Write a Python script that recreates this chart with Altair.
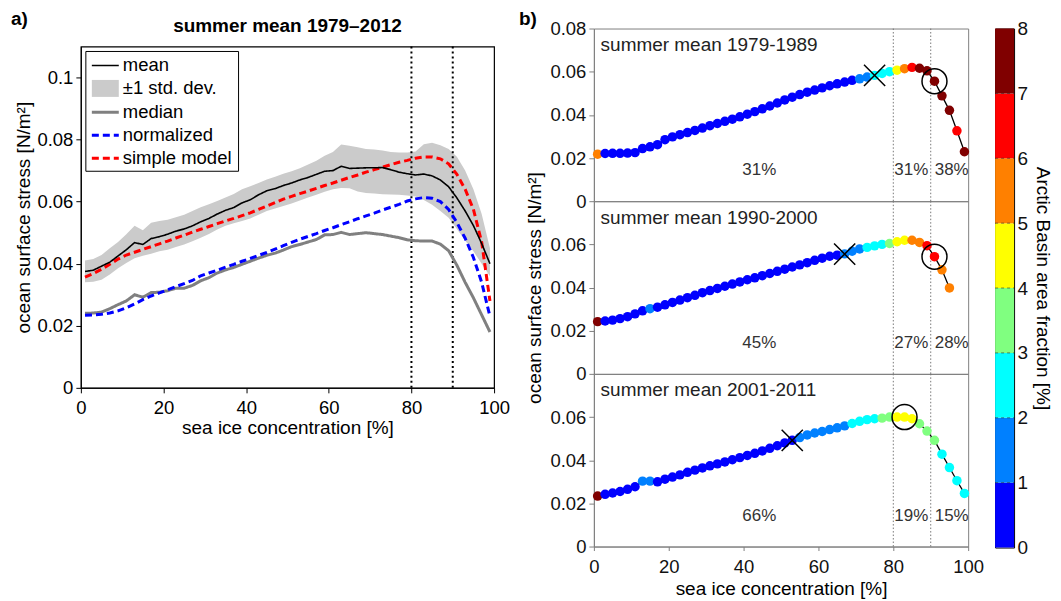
import altair as alt
import pandas as pd

FONT = "Liberation Sans"

# ---------------- panel a data ----------------
conc_a = [1, 3, 5, 7, 9, 11, 13, 15, 17, 19, 21, 23, 25, 27, 29, 31, 33, 35, 37, 39,
          41, 43, 45, 47, 49, 51, 53, 55, 57, 59, 61, 63, 65, 67, 69, 71, 73, 75, 77, 79,
          81, 83, 85, 87, 89, 91, 93, 95, 97, 99]
mean_a = [.0375, .0379, .0392, .0405, .0425, .0445, .0468, .0462, .0481, .0487,
          .0495, .0505, .0512, .0522, .0535, .0546, .0560, .0572, .0581, .0596,
          .0606, .0622, .0635, .0642, .0652, .0660, .0670, .0678, .0688, .0698,
          .0700, .0714, .0707, .0708, .0709, .0709, .0710, .0703, .0695, .0690,
          .0686, .0689, .0683, .0670, .0648, .0612, .0570, .0523, .0465, .0400]
upper_a = [.0410, .0415, .0428, .0450, .0470, .0495, .0522, .0508, .0532, .0538,
           .0542, .0550, .0558, .0570, .0582, .0592, .0602, .0613, .0625, .0640,
           .0650, .0660, .0671, .0680, .0690, .0698, .0708, .0720, .0732, .0748,
           .0760, .0784, .0780, .0775, .0770, .0768, .0765, .0760, .0758, .0758,
           .0762, .0785, .0790, .0782, .0770, .0745, .0700, .0640, .0560, .0450]
lower_a = [.0340, .0342, .0348, .0365, .0385, .0402, .0418, .0426, .0432, .0440,
           .0445, .0454, .0462, .0472, .0484, .0496, .0510, .0522, .0530, .0538,
           .0546, .0558, .0570, .0578, .0586, .0594, .0604, .0613, .0622, .0632,
           .0640, .0644, .0643, .0633, .0628, .0626, .0624, .0623, .0622, .0620,
           .0617, .0605, .0590, .0570, .0548, .0512, .0475, .0440, .0400, .0360]
median_a = [.0240, .0241, .0244, .0255, .0268, .0280, .0300, .0292, .0307, .0308,
            .0313, .0321, .0321, .0330, .0345, .0355, .0370, .0380, .0388, .0398,
            .0408, .0418, .0427, .0434, .0444, .0455, .0462, .0470, .0478, .0493,
            .0494, .0501, .0494, .0497, .0500, .0497, .0494, .0489, .0484, .0477,
            .0474, .0473, .0473, .0463, .0442, .0395, .0340, .0290, .0235, .0180]
norm_a = [.0234, .0235, .0237, .0241, .0248, .0258, .0270, .0284, .0296, .0306,
          .0316, .0326, .0336, .0346, .0361, .0370, .0379, .0389, .0398, .0408,
          .0417, .0427, .0436, .0447, .0458, .0469, .0479, .0488, .0497, .0507,
          .0516, .0526, .0535, .0545, .0554, .0563, .0573, .0582, .0591, .0602,
          .0609, .0613, .0611, .0600, .0575, .0533, .0482, .0420, .0340, .0230]
model_a = [.0357, .0368, .0382, .0398, .0415, .0428, .0437, .0446, .0455, .0464,
           .0473, .0483, .0492, .0502, .0511, .0520, .0529, .0538, .0546, .0555,
           .0564, .0575, .0586, .0597, .0608, .0617, .0626, .0634, .0643, .0652,
           .0660, .0669, .0678, .0686, .0695, .0703, .0711, .0719, .0727, .0733,
           .0740, .0744, .0744, .0738, .0722, .0688, .0640, .0575, .0470, .0280]
vlines_a = [80, 90]

series_names = ["mean", "±1 std. dev.", "median", "normalized", "simple model"]
series_colors = ["#000000", "#cbcbcb", "#808080", "#0000ff", "#ff0000"]
series_dash = [[1, 0], [1, 0], [1, 0], [7, 4], [7, 4]]
series_width = [1.6, 17, 3, 3, 3]

# ---------------- panel b data ----------------
periods = ["summer mean 1979-1989", "summer mean 1990-2000", "summer mean 2001-2011"]
conc_b1 = [1, 3, 5, 7, 9, 11, 13, 15, 17, 19, 21, 23, 25, 27, 29, 31, 33, 35, 37, 39,
           41, 43, 45, 47, 49, 51, 53, 55, 57, 59, 61, 63, 65, 67, 69, 71, 73, 75, 77, 79,
           81, 83, 85, 87, 89, 91, 93, 95, 97, 99]
stress_b1 = [.0218, .0221, .0222, .0222, .0223, .0225, .0244, .0252, .0262, .0285,
             .0298, .0308, .0318, .0328, .0339, .0350, .0360, .0370, .0380, .0391,
             .0403, .0415, .0428, .0441, .0455, .0469, .0482, .0494, .0505, .0515,
             .0525, .0535, .0544, .0552, .0560, .0567, .0575, .0583, .0592, .0600,
             .0607, .0614, .0620, .0616, .0604, .0556, .0488, .0421, .0326, .0229]
frac_b1 = [5.5, 0.5, 0.5, 0.5, 0.5, 0.5, 0.5, 0.5, 0.5, 0.5,
           0.5, 0.5, 0.5, 0.5, 0.5, 0.5, 0.5, 0.5, 0.5, 0.5,
           0.5, 0.5, 0.5, 0.5, 0.5, 0.5, 0.5, 0.5, 0.5, 0.5,
           0.5, 0.5, 0.5, 0.5, 0.5, 1.5, 1.5, 2.5, 2.5, 2.5,
           4.5, 5.5, 6.5, 7.5, 7.5, 7.5, 7.5, 7.5, 6.5, 7.5]
conc_b2 = [1, 3, 5, 7, 9, 11, 13, 15, 17, 19, 21, 23, 25, 27, 29, 31, 33, 35, 37, 39,
           41, 43, 45, 47, 49, 51, 53, 55, 57, 59, 61, 63, 65, 67, 69, 71, 73, 75, 77, 79,
           81, 83, 85, 87, 89, 91, 93, 95]
stress_b2 = [.0242, .0245, .0249, .0256, .0265, .0278, .0292, .0302, .0309, .0320,
             .0331, .0342, .0353, .0364, .0376, .0386, .0396, .0406, .0416, .0426,
             .0436, .0445, .0455, .0465, .0475, .0485, .0495, .0505, .0515, .0526,
             .0536, .0545, .0550, .0556, .0568, .0579, .0586, .0593, .0600, .0604,
             .0612, .0619, .0619, .0609, .0594, .0543, .0482, .0398]
frac_b2 = [7.5, 0.5, 0.5, 0.5, 0.5, 0.5, 0.5, 1.5, 0.5, 0.5,
           0.5, 0.5, 0.5, 0.5, 0.5, 0.5, 0.5, 0.5, 0.5, 0.5,
           0.5, 0.5, 0.5, 0.5, 0.5, 0.5, 0.5, 0.5, 0.5, 0.5,
           0.5, 0.5, 0.5, 1.5, 1.5, 1.5, 2.5, 2.5, 2.5, 3.5,
           4.5, 4.5, 5.5, 5.5, 6.5, 6.5, 5.5, 5.5]
conc_b3 = [1, 3, 5, 7, 9, 11, 13, 15, 17, 19, 21, 23, 25, 27, 29, 31, 33, 35, 37, 39,
           41, 43, 45, 47, 49, 51, 53, 55, 57, 59, 61, 63, 65, 67, 69, 71, 73, 75, 77, 79,
           81, 83, 85, 87, 89, 91, 93, 95, 97, 99]
stress_b3 = [.0234, .0242, .0248, .0255, .0265, .0277, .0303, .0303, .0300, .0312,
             .0322, .0332, .0344, .0354, .0364, .0374, .0383, .0392, .0402, .0412,
             .0422, .0432, .0443, .0455, .0467, .0480, .0492, .0505, .0517, .0526,
             .0533, .0542, .0550, .0559, .0570, .0580, .0588, .0592, .0595, .0600,
             .0600, .0600, .0592, .0569, .0535, .0492, .0428, .0366, .0305, .0246]
frac_b3 = [7.5, 0.5, 0.5, 0.5, 0.5, 0.5, 1.5, 1.5, 0.5, 0.5,
           0.5, 0.5, 0.5, 0.5, 0.5, 0.5, 0.5, 0.5, 0.5, 0.5,
           0.5, 0.5, 0.5, 0.5, 0.5, 0.5, 0.5, 1.5, 1.5, 1.5,
           1.5, 1.5, 1.5, 1.5, 2.5, 2.5, 2.5, 2.5, 3.5, 3.5,
           4.5, 4.5, 4.5, 3.5, 3.5, 3.5, 2.5, 2.5, 2.5, 2.5]
xmark_b = [[75, .0583], [67, .0555], [53, .0492]]
circle_b = [[91, .0556], [91, .0543], [83, .0600]]
pct_labels_b = [["31%", "31%", "38%"], ["45%", "27%", "28%"], ["66%", "19%", "15%"]]
pct_x = [44.2, 84.8, 95.6]
pct_y = [0.0143, 0.0143, 0.0143]
period_xy = [1.8, 0.0723]
vlines_b = [80, 90]

# ---------------- colorbar ----------------
cb_lo = [0, 1, 2, 3, 4, 5, 6, 7]
cb_hi = [1, 2, 3, 4, 5, 6, 7, 8]
cb_mid = [0.5, 1.5, 2.5, 3.5, 4.5, 5.5, 6.5, 7.5]
cb_ticks = [0, 1, 2, 3, 4, 5, 6, 7, 8]
jet8 = ["#0000ff", "#0080ff", "#00ffff", "#80ff80", "#ffff00", "#ff8000", "#ff0000", "#800000"]
frac_scale = alt.Scale(type="threshold", domain=[1, 2, 3, 4, 5, 6, 7], range=jet8)

one = pd.DataFrame({"k": [0]})

# ================= panel a =================
rows = []
for name, vals in [("median", median_a), ("normalized", norm_a),
                   ("simple model", model_a), ("mean", mean_a)]:
    for c, v in zip(conc_a, vals):
        rows.append({"conc": c, "stress": v, "series": name})
lines_df = pd.DataFrame(rows)
band_df = pd.DataFrame({"conc": conc_a, "lower": lower_a, "upper": upper_a})

axis_a_x = alt.Axis(values=[0, 20, 40, 60, 80, 100], title="sea ice concentration [%]",
                    labelFlush=False, tickSize=5, labelPadding=6, titlePadding=1,
                    domainColor="black", tickColor="black", grid=False)
axis_a_y = alt.Axis(values=[0, 0.02, 0.04, 0.06, 0.08, 0.1], format=".2~f",
                    title="ocean surface stress [N/m²]", labelFlush=False,
                    tickSize=5, labelPadding=3, titlePadding=3,
                    domainColor="black", tickColor="black", grid=False)


def xa():
    return alt.X("conc:Q", scale=alt.Scale(domain=[0, 100], nice=False), axis=axis_a_x)


def ya(field):
    return alt.Y(f"{field}:Q", scale=alt.Scale(domain=[0, 0.11], nice=False), axis=axis_a_y)


band = alt.Chart(band_df).mark_area(color="#cbcbcb", opacity=1).encode(
    x=xa(), y=ya("lower"), y2="upper:Q")
rules_a = alt.Chart(pd.DataFrame({"conc": vlines_a})).mark_rule(
    color="black", strokeDash=[2, 3], strokeWidth=2).encode(x=xa())
lines = alt.Chart(lines_df).mark_line().encode(
    x=xa(), y=ya("stress"),
    color=alt.Color("series:N", scale=alt.Scale(domain=series_names, range=series_colors),
                    legend=None),
    strokeDash=alt.StrokeDash("series:N", scale=alt.Scale(domain=series_names, range=series_dash),
                              legend=None),
    strokeWidth=alt.StrokeWidth("series:N", scale=alt.Scale(type="ordinal", domain=series_names,
                                                            range=series_width),
                                legend=None),
)

# legend box drawn inside the plot area (pixel offsets from the plot's top-left corner)
legend_layers = [
    alt.Chart(one).mark_rect(fill="white", stroke="black", strokeWidth=1).encode(
        x=alt.value(5), x2=alt.value(158), y=alt.value(5), y2=alt.value(125))
]
row_y = [19, 42, 66, 89, 112]
for i, name in enumerate(series_names):
    if name == "±1 std. dev.":
        legend_layers.append(alt.Chart(one).mark_rect(fill=series_colors[i]).encode(
            x=alt.value(11), x2=alt.value(38), y=alt.value(row_y[i] - 8.5),
            y2=alt.value(row_y[i] + 8.5)))
    else:
        legend_layers.append(alt.Chart(one).mark_rule(
            color=series_colors[i], strokeDash=series_dash[i], strokeWidth=series_width[i]).encode(
            x=alt.value(11), x2=alt.value(38), y=alt.value(row_y[i])))
    legend_layers.append(alt.Chart(pd.DataFrame({"t": [name]})).mark_text(
        fontSize=18.5, align="left", baseline="middle", color="black").encode(
        text="t:N", x=alt.value(42), y=alt.value(row_y[i])))

label_a = alt.Chart(pd.DataFrame({"t": ["a)"]})).mark_text(
    fontSize=19, fontWeight="bold", align="left", baseline="top", color="black").encode(
    text="t:N", x=alt.value(-70), y=alt.value(-37))
title_a = alt.Chart(pd.DataFrame({"t": ["summer mean 1979–2012"]})).mark_text(
    fontSize=19, fontWeight="bold", align="center", baseline="middle", color="black").encode(
    text="t:N", x=alt.value(207), y=alt.value(-21))

panel_a_core = alt.layer(band, rules_a, lines, *legend_layers, label_a, title_a).properties(
    width=414, height=342,
    view=alt.ViewBackground(stroke="black", strokeWidth=1.2),
)
spacer_a = alt.Chart(one).mark_point(opacity=0).encode(
    x=alt.value(0), y=alt.value(0)).properties(
    width=414, height=18, view=alt.ViewBackground(strokeOpacity=0, fillOpacity=0))
panel_a = alt.vconcat(spacer_a, panel_a_core, spacing=0, bounds="flush")

# ================= panel b =================
gray = "#808080"


def sub_b(i, conc, stress, frac, y_values, y_title, x_axis, with_label):
    df = pd.DataFrame({"conc": conc, "stress": stress, "frac": frac})
    y_axis = alt.Axis(values=y_values, format=".2~f", title=y_title, labelFlush=False,
                      tickSize=5, labelPadding=3, titlePadding=5, domainColor=gray,
                      tickColor=gray, labelColor="#111", grid=False)
    X = alt.X("conc:Q", scale=alt.Scale(domain=[0, 100], nice=False), axis=x_axis)
    Y = alt.Y("stress:Q", scale=alt.Scale(domain=[0, 0.08], nice=False), axis=y_axis)
    layers = [
        alt.Chart(pd.DataFrame({"conc": vlines_b})).mark_rule(
            color="#777", strokeDash=[1.5, 2], strokeWidth=1).encode(x=X),
        alt.Chart(df).mark_line(color="black", strokeWidth=1.3).encode(x=X, y=Y),
        alt.Chart(df).mark_circle(size=90, opacity=1).encode(
            x=X, y=Y, color=alt.Color("frac:Q", scale=frac_scale, legend=None)),
        alt.Chart(pd.DataFrame({"conc": [xmark_b[i][0]], "stress": [xmark_b[i][1]]})).mark_point(
            shape="M-1,-1L1,1M-1,1L1,-1", size=450, color="black", strokeWidth=1.5,
            filled=False, opacity=1).encode(x=X, y=Y),
        alt.Chart(pd.DataFrame({"conc": [circle_b[i][0]], "stress": [circle_b[i][1]]})).mark_point(
            shape="circle", size=625, color="black", strokeWidth=1.5,
            filled=False, opacity=1).encode(x=X, y=Y),
        alt.Chart(pd.DataFrame({"conc": pct_x, "stress": pct_y, "t": pct_labels_b[i]})).mark_text(
            fontSize=17, color="#333").encode(x=X, y=Y, text="t:N"),
        alt.Chart(pd.DataFrame({"conc": [period_xy[0]], "stress": [period_xy[1]],
                                "t": [periods[i]]})).mark_text(
            fontSize=19, align="left", baseline="middle", color="#222").encode(
            x=X, y=Y, text="t:N"),
    ]
    if with_label:
        layers.append(alt.Chart(pd.DataFrame({"t": ["b)"]})).mark_text(
            fontSize=19, fontWeight="bold", align="left", baseline="top", color="black").encode(
            text="t:N", x=alt.value(-75), y=alt.value(-19)))
    return alt.layer(*layers).properties(
        width=375, height=173, view=alt.ViewBackground(stroke=gray, strokeWidth=1))


axis_b_x = alt.Axis(values=[0, 20, 40, 60, 80, 100], title="sea ice concentration [%]",
                    labelFlush=False, tickSize=4, labelPadding=7, titlePadding=4,
                    domainColor=gray, tickColor=gray, labelColor="#111", grid=False)

b1 = sub_b(0, conc_b1, stress_b1, frac_b1, [0, 0.02, 0.04, 0.06, 0.08], None, None, True)
b2 = sub_b(1, conc_b2, stress_b2, frac_b2, [0, 0.02, 0.04, 0.06],
           "ocean surface stress [N/m²]", None, False)
b3 = sub_b(2, conc_b3, stress_b3, frac_b3, [0, 0.02, 0.04, 0.06], None, axis_b_x, False)
panel_b = alt.vconcat(b1, b2, b3, spacing=0, bounds="flush")

# ================= colorbar =================
cb_df = pd.DataFrame({"lo": cb_lo, "hi": cb_hi, "mid": cb_mid})
cb_axis = alt.Axis(orient="right", values=cb_ticks, title="Arctic Basin area fraction [%]",
                   titleAngle=90, tickSize=0, labelPadding=3, titlePadding=5, domain=False,
                   labelFontSize=19, titleFontSize=19, labelColor="#111", grid=False)
CY = alt.Y("lo:Q", scale=alt.Scale(domain=[0, 8], nice=False), axis=cb_axis)
cb_rect = alt.Chart(cb_df).mark_rect().encode(
    y=CY, y2="hi:Q", x=alt.value(0), x2=alt.value(19),
    color=alt.Color("mid:Q", scale=frac_scale, legend=None))
cb_lines = alt.Chart(pd.DataFrame({"lo": cb_lo[1:]})).mark_rule(
    color="#222", strokeDash=[3, 3], strokeWidth=0.8, opacity=0.7).encode(
    y=CY, x=alt.value(0), x2=alt.value(19))
cb_pad = alt.Chart(pd.DataFrame({"t": ["8"]})).mark_text(
    fontSize=19, fontWeight="bold", align="left", baseline="top", opacity=0).encode(
    text="t:N", x=alt.value(-3), y=alt.value(-19))
cbar = alt.layer(cb_rect, cb_lines, cb_pad).properties(
    width=19, height=520, view=alt.ViewBackground(stroke="black", strokeWidth=1))

chart = alt.hconcat(panel_a, panel_b, cbar, spacing=7).properties(
    padding={"left": 2, "top": 0, "right": 0, "bottom": 0}
).configure(font=FONT).configure_axis(
    labelFont=FONT, titleFont=FONT, labelFontSize=18.5, titleFontSize=19,
    titleFontWeight="normal", labelColor="black", titleColor="black"
).configure_text(font=FONT).configure_title(font=FONT)

chart.save("out.html", embed_options={"renderer": "svg", "actions": False})
